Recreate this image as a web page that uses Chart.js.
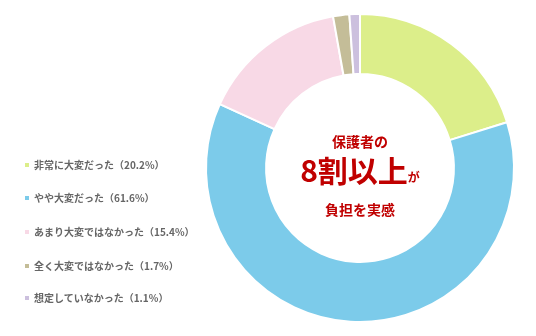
<!DOCTYPE html>
<html>
<head>
<meta charset="utf-8">
<script src="https://cdn.jsdelivr.net/npm/chart.js@4.4.0/dist/chart.umd.min.js"></script>
<style>
  body { margin: 0; background: #fff; }
  #wrap { position: relative; width: 536px; height: 336px; overflow: hidden; }
  #legend { position: absolute; left: 25px; top: 0; font-family: "Noto Sans CJK JP", sans-serif; font-size: 10px; font-weight: bold; color: #666; }
  .item { position: absolute; left: 0; white-space: nowrap; line-height: 12px; }
  .box { display: inline-block; width: 4px; height: 4px; margin-right: 5px; vertical-align: 2px; }
  #center { position: absolute; left: 260px; width: 200px; top: 0; font-family: "Noto Sans CJK JP", sans-serif; font-weight: bold; color: #c00000; text-align: center; }
  #center div { position: absolute; left: 0; width: 200px; }
</style>
</head>
<body>
<div id="wrap">
  <canvas id="myChart" width="536" height="336"></canvas>
  <div id="legend"></div>
  <div id="center">
    <div style="top:131px;font-size:14px;">保護者の</div>
    <div style="top:150px;font-size:30px;line-height:38px;">8割以上<span style="font-size:12px;">が</span></div>
    <div style="top:199px;font-size:14px;">負担を実感</div>
  </div>
</div>
<script>
// survey answers, percentages
const labels = ["非常に大変だった", "やや大変だった", "あまり大変ではなかった", "全く大変ではなかった", "想定していなかった"];
const values = [20.2, 61.6, 15.4, 1.7, 1.1];
const colors = ["#dcee8a", "#7ccbea", "#f8d9e6", "#c4bd98", "#ccc0de"];
const legendTops = [159, 192, 226, 260, 292];

new Chart("myChart", {
  type: "doughnut",
  data: {
    labels: labels,
    datasets: [{
      data: values,
      backgroundColor: colors,
      borderColor: "#fff",
      borderWidth: 2
    }]
  },
  options: {
    responsive: false,
    animation: false,
    cutout: "61%",
    layout: { padding: { left: 205, right: 21, top: 13, bottom: 13 } },
    plugins: { legend: { display: false }, tooltip: { enabled: false } }
  }
});

// left legend, built from the arrays
const legend = document.getElementById("legend");
labels.forEach(function (label, i) {
  const div = document.createElement("div");
  div.className = "item";
  div.style.top = legendTops[i] + "px";
  div.innerHTML = '<span class="box" style="background:' + colors[i] + '"></span>' +
    label + "（" + values[i].toFixed(1) + "%）";
  legend.appendChild(div);
});
</script>
</body>
</html>
